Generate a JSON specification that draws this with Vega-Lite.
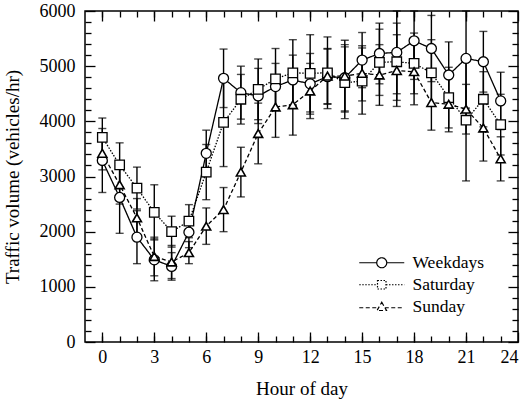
{
 "$schema": "https://vega.github.io/schema/vega-lite/v6.json",
 "width": 433, "height": 331,
 "autosize": "none",
 "padding": {"left": 85, "top": 11, "right": 10, "bottom": 61},
 "background": "white",
 "config": {
  "view": {"stroke": "black", "strokeWidth": 1.5},
  "font": "Liberation Serif",
  "style": {"guide-label": {"font": "Liberation Serif", "fontSize": 18, "fill": "black"}, "guide-title": {"font": "Liberation Serif", "fontSize": 19, "fill": "black", "fontWeight": "normal"}},
  "axis": {"domain": false, "grid": false, "tickColor": "black", "tickWidth": 1.3, "labelColor": "black", "titleColor": "black", "labelFont": "Liberation Serif", "titleFont": "Liberation Serif", "labelFontSize": 18, "titleFontSize": 19, "titleFontWeight": "normal"},
  "legend": {"labelFont": "Liberation Serif", "labelFontSize": 17.5, "labelColor": "black"}
 },
 "data": {"values": [
  {"h":0,"s":"Weekdays","v":3290,"lo":2710,"hi":3870},
  {"h":1,"s":"Weekdays","v":2620,"lo":1970,"hi":3270},
  {"h":2,"s":"Weekdays","v":1900,"lo":1420,"hi":2380},
  {"h":3,"s":"Weekdays","v":1490,"lo":1110,"hi":1870},
  {"h":4,"s":"Weekdays","v":1370,"lo":1120,"hi":1620},
  {"h":5,"s":"Weekdays","v":1990,"lo":1710,"hi":2270},
  {"h":6,"s":"Weekdays","v":3420,"lo":3000,"hi":3840},
  {"h":7,"s":"Weekdays","v":4780,"lo":4250,"hi":5310},
  {"h":8,"s":"Weekdays","v":4520,"lo":4040,"hi":5000},
  {"h":9,"s":"Weekdays","v":4460,"lo":3960,"hi":4960},
  {"h":10,"s":"Weekdays","v":4630,"lo":4210,"hi":5050},
  {"h":11,"s":"Weekdays","v":4750,"lo":4300,"hi":5200},
  {"h":12,"s":"Weekdays","v":4680,"lo":4130,"hi":5230},
  {"h":13,"s":"Weekdays","v":4810,"lo":4310,"hi":5310},
  {"h":14,"s":"Weekdays","v":4790,"lo":4190,"hi":5390},
  {"h":15,"s":"Weekdays","v":5110,"lo":4610,"hi":5610},
  {"h":16,"s":"Weekdays","v":5230,"lo":4680,"hi":5780},
  {"h":17,"s":"Weekdays","v":5250,"lo":4500,"hi":6000},
  {"h":18,"s":"Weekdays","v":5460,"lo":4760,"hi":6000},
  {"h":19,"s":"Weekdays","v":5320,"lo":4720,"hi":5920},
  {"h":20,"s":"Weekdays","v":4840,"lo":4240,"hi":5440},
  {"h":21,"s":"Weekdays","v":5140,"lo":4240,"hi":6000},
  {"h":22,"s":"Weekdays","v":5080,"lo":4530,"hi":5630},
  {"h":23,"s":"Weekdays","v":4370,"lo":3850,"hi":4890},
  {"h":0,"s":"Saturday","v":3710,"lo":3360,"hi":4060},
  {"h":1,"s":"Saturday","v":3210,"lo":2810,"hi":3610},
  {"h":2,"s":"Saturday","v":2790,"lo":2410,"hi":3170},
  {"h":3,"s":"Saturday","v":2350,"lo":1850,"hi":2850},
  {"h":4,"s":"Saturday","v":2000,"lo":1720,"hi":2280},
  {"h":5,"s":"Saturday","v":2190,"lo":1890,"hi":2490},
  {"h":6,"s":"Saturday","v":3080,"lo":2580,"hi":3580},
  {"h":7,"s":"Saturday","v":3980,"lo":3180,"hi":4780},
  {"h":8,"s":"Saturday","v":4400,"lo":3950,"hi":4850},
  {"h":9,"s":"Saturday","v":4580,"lo":4030,"hi":5130},
  {"h":10,"s":"Saturday","v":4770,"lo":4220,"hi":5320},
  {"h":11,"s":"Saturday","v":4880,"lo":4280,"hi":5480},
  {"h":12,"s":"Saturday","v":4870,"lo":4170,"hi":5570},
  {"h":13,"s":"Saturday","v":4880,"lo":4230,"hi":5530},
  {"h":14,"s":"Saturday","v":4700,"lo":4050,"hi":5350},
  {"h":15,"s":"Saturday","v":4730,"lo":4130,"hi":5330},
  {"h":16,"s":"Saturday","v":5070,"lo":4470,"hi":5670},
  {"h":17,"s":"Saturday","v":5080,"lo":4380,"hi":5780},
  {"h":18,"s":"Saturday","v":5050,"lo":4500,"hi":5600},
  {"h":19,"s":"Saturday","v":4880,"lo":4280,"hi":5480},
  {"h":20,"s":"Saturday","v":4430,"lo":3880,"hi":4980},
  {"h":21,"s":"Saturday","v":4020,"lo":2920,"hi":5120},
  {"h":22,"s":"Saturday","v":4400,"lo":3900,"hi":4900},
  {"h":23,"s":"Saturday","v":3940,"lo":3390,"hi":4490},
  {"h":0,"s":"Sunday","v":3420,"lo":3120,"hi":3720},
  {"h":1,"s":"Sunday","v":2850,"lo":2500,"hi":3200},
  {"h":2,"s":"Sunday","v":2250,"lo":1900,"hi":2600},
  {"h":3,"s":"Sunday","v":1550,"lo":1200,"hi":1900},
  {"h":4,"s":"Sunday","v":1450,"lo":1150,"hi":1750},
  {"h":5,"s":"Sunday","v":1620,"lo":1420,"hi":1820},
  {"h":6,"s":"Sunday","v":2100,"lo":1770,"hi":2430},
  {"h":7,"s":"Sunday","v":2400,"lo":2000,"hi":2800},
  {"h":8,"s":"Sunday","v":3080,"lo":2630,"hi":3530},
  {"h":9,"s":"Sunday","v":3780,"lo":3230,"hi":4330},
  {"h":10,"s":"Sunday","v":4260,"lo":3710,"hi":4810},
  {"h":11,"s":"Sunday","v":4300,"lo":3750,"hi":4850},
  {"h":12,"s":"Sunday","v":4550,"lo":4050,"hi":5050},
  {"h":13,"s":"Sunday","v":4820,"lo":4320,"hi":5320},
  {"h":14,"s":"Sunday","v":4820,"lo":4170,"hi":5470},
  {"h":15,"s":"Sunday","v":4870,"lo":4370,"hi":5370},
  {"h":16,"s":"Sunday","v":4840,"lo":4290,"hi":5390},
  {"h":17,"s":"Sunday","v":4920,"lo":4270,"hi":5570},
  {"h":18,"s":"Sunday","v":4900,"lo":4300,"hi":5500},
  {"h":19,"s":"Sunday","v":4340,"lo":3840,"hi":4840},
  {"h":20,"s":"Sunday","v":4310,"lo":3810,"hi":4810},
  {"h":21,"s":"Sunday","v":4220,"lo":3770,"hi":4670},
  {"h":22,"s":"Sunday","v":3880,"lo":3280,"hi":4480},
  {"h":23,"s":"Sunday","v":3320,"lo":2920,"hi":3720}
 ]},
 "layer": [
  {
   "mark": {"type": "errorbar", "ticks": {"size": 8, "color": "black", "thickness": 1.4}, "color": "black", "thickness": 1.4},
   "encoding": {
    "x": {"field": "h", "type": "quantitative", "scale": {"domain": [-1, 24], "nice": false, "zero": false},
          "axis": {"orient": "bottom", "values": [0,3,6,9,12,15,18,21,24], "tickSize": -10, "labelPadding": 16, "labelFont": "Liberation Serif", "labelFontSize": 18, "title": "Hour of day", "titlePadding": 13}},
    "y": {"field": "lo", "type": "quantitative", "scale": {"domain": [0, 6000], "nice": false},
          "axis": {"orient": "left", "values": [0,1000,2000,3000,4000,5000,6000], "format": "d", "tickSize": -10, "labelPadding": 20, "labelFont": "Liberation Serif", "labelFontSize": 18, "title": "Traffic volume (vehicles/hr)", "titlePadding": 17}},
    "y2": {"field": "hi"}
   }
  },
  {
   "mark": {"type": "line", "color": "black", "strokeWidth": 1.3},
   "encoding": {
    "x": {"field": "h", "type": "quantitative", "axis": {"orient": "top", "values": [0,3,6,9,12,15,18,21,24], "tickSize": -10, "labels": false, "title": null}},
    "y": {"field": "v", "type": "quantitative", "axis": {"orient": "right", "values": [0,1000,2000,3000,4000,5000,6000], "tickSize": -10, "labels": false, "title": null}},
    "strokeDash": {"field": "s", "type": "nominal",
      "scale": {"domain": ["Weekdays", "Saturday", "Sunday"], "range": [[1, 0], [1.5, 1.5], [4, 2.5]]},
      "legend": {"orient": "none", "legendX": 288, "legendY": 243, "title": null, "symbolSize": 100, "symbolStrokeColor": "black", "symbolStrokeWidth": 1.2, "rowPadding": 3, "labelOffset": 22, "labelFont": "Liberation Serif", "labelFontSize": 17.5,
        "encode": {"symbols": {"update": {
          "shape": {"signal": "datum.value === 'Weekdays' ? 'M-4.5,0L-1,0M1,0L4.5,0M-1,0A1,1 0 1,0 1,0A1,1 0 1,0 -1,0' : datum.value === 'Saturday' ? 'M-4.5,0L-0.85,0M0.85,0L4.5,0M-0.85,-0.85L0.85,-0.85L0.85,0.85L-0.85,0.85Z' : 'M-4.5,0.2L-0.6,0.2M0.6,0.2L4.5,0.2M0,-0.9L0.95,0.75L-0.95,0.75Z'"},
          "fill": {"value": "white"},
          "stroke": {"value": "black"}
        }}}}
    }
   }
  },
  {
   "transform": [{"filter": "datum.s === 'Weekdays'"}],
   "mark": {"type": "point", "shape": "circle", "filled": false, "fill": "white", "fillOpacity": 1, "stroke": "black", "strokeWidth": 1.3, "opacity": 1, "size": 100},
   "encoding": {
    "x": {"field": "h", "type": "quantitative", "axis": {"orient": "bottom", "values": [0,1,2,3,4,5,6,7,8,9,10,11,12,13,14,15,16,17,18,19,20,21,22,23], "tickSize": -6, "labels": false, "title": null}},
    "y": {"field": "v", "type": "quantitative", "axis": {"orient": "left", "values": [200,400,600,800,1200,1400,1600,1800,2200,2400,2600,2800,3200,3400,3600,3800,4200,4400,4600,4800,5200,5400,5600,5800], "tickSize": -6, "labels": false, "title": null}}
   }
  },
  {
   "transform": [{"filter": "datum.s === 'Saturday'"}],
   "mark": {"type": "point", "shape": "square", "filled": false, "fill": "white", "fillOpacity": 1, "stroke": "black", "strokeWidth": 1.3, "opacity": 1, "size": 90},
   "encoding": {
    "x": {"field": "h", "type": "quantitative", "axis": {"orient": "top", "values": [0,1,2,3,4,5,6,7,8,9,10,11,12,13,14,15,16,17,18,19,20,21,22,23], "tickSize": -6, "labels": false, "title": null}},
    "y": {"field": "v", "type": "quantitative", "axis": {"orient": "right", "values": [200,400,600,800,1200,1400,1600,1800,2200,2400,2600,2800,3200,3400,3600,3800,4200,4400,4600,4800,5200,5400,5600,5800], "tickSize": -6, "labels": false, "title": null}}
   }
  },
  {
   "transform": [{"filter": "datum.s === 'Sunday'"}],
   "mark": {"type": "point", "shape": "triangle-up", "filled": false, "fill": "white", "fillOpacity": 1, "stroke": "black", "strokeWidth": 1.6, "opacity": 1, "size": 80},
   "encoding": {
    "x": {"field": "h", "type": "quantitative", "axis": null},
    "y": {"field": "v", "type": "quantitative", "axis": null}
   }
  }
 ],
 "resolve": {"axis": {"x": "independent", "y": "independent"}}
}
